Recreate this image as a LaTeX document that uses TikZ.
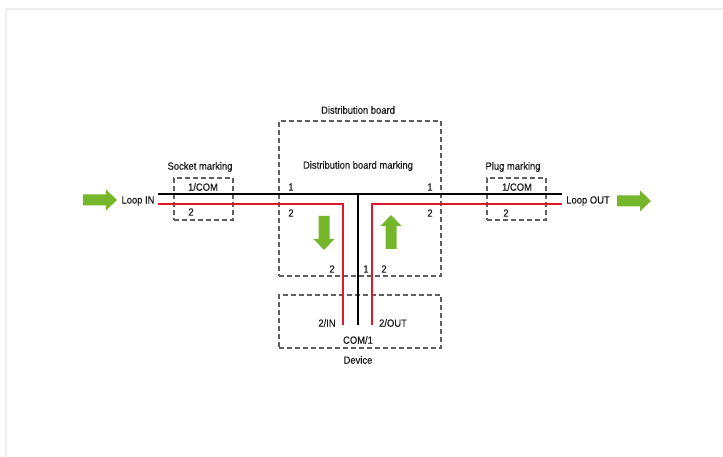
\documentclass[tikz,border=0pt]{standalone}
\usepackage{fontspec}
\setmainfont{Liberation Sans}[FakeStretch=0.9, FakeBold=0.3]
\usetikzlibrary{positioning}
\definecolor{framegray}{RGB}{238,238,238}
\definecolor{dashgray}{RGB}{95,95,95}
\definecolor{wirered}{RGB}{222,25,45}
\definecolor{flowgreen}{RGB}{118,182,42}

\tikzset{
  markbox/.style={draw=dashgray, line width=1.3bp, dash pattern=on 5bp off 3bp, inner sep=0pt},
  lbl/.style={font=\fontsize{10.5}{12}\selectfont, text=black!90, inner sep=1pt},
  wire/.style={line width=1.6bp},
  flowarrow/.pic={\fill[flowgreen] (0,-5.5) -- (23,-5.5) -- (23,-10.5) -- (34,0) -- (23,10.5) -- (23,5.5) -- (0,5.5) -- cycle;}
}

\begin{document}
\begin{tikzpicture}[x=1bp, y=-1bp]
    \useasboundingbox (0,0) rectangle (723,457);

    % Outer frame
    \coordinate (fbl) at (6,457);
    \coordinate (ftl) at (6,9);
    \coordinate (ftr) at (723,9);
    \draw[framegray, line width=2bp] (fbl) -- (ftl) -- (ftr);

    % Boxes
    \node[markbox, minimum width=162bp, minimum height=155bp] (board) at (360,198.5) {};
    \node[markbox, minimum width=59bp, minimum height=42bp] (socket) at (203.5,199) {};
    \node[markbox, minimum width=59bp, minimum height=42bp] (plug) at (516.5,199) {};
    \node[markbox, minimum width=162bp, minimum height=53bp] (device) at (360,321.5) {};

    % Wire ends
    \coordinate (blkL) at (158,194);
    \coordinate (blkR) at (562,194);
    \coordinate (blkT) at (358,194);
    \coordinate (blkB) at (358,325);
    \coordinate (redL) at (158,204);
    \coordinate (redLc) at (343,204);
    \coordinate (redLb) at (343,325);
    \coordinate (redR) at (562,204);
    \coordinate (redRc) at (372,204);
    \coordinate (redRb) at (372,325);

    % Wires
    \draw[wire] (blkL) -- (blkR);
    \draw[wire] (blkT) -- (blkB);
    \draw[wire, wirered, line width=2bp] (redL) -- (redLc) -- (redLb);
    \draw[wire, wirered, line width=2bp] (redR) -- (redRc) -- (redRb);

    % Flow arrows
    \pic (arrin) at (83,200) {flowarrow};
    \pic (arrout) at (617,201) {flowarrow};
    \pic[rotate=-90] (arrdown) at (324,216) {flowarrow};
    \pic[rotate=90] (arrup) at (391,249) {flowarrow};

    % Labels
    \node[lbl] (tboard) at (358,110) {Distribution board};
    \node[lbl] (tbmark) at (358,166) {Distribution board marking};
    \node[lbl] (tsocket) at (200,167) {Socket marking};
    \node[lbl] (tplug) at (513,167) {Plug marking};
    \node[lbl] (tdevice) at (358,360) {Device};
    \node[lbl] (tin) at (138,201) {Loop IN};
    \node[lbl] (tout) at (588,201) {Loop OUT};

    \node[lbl] (scom) at (203,187) {1/COM};
    \node[lbl] (stwo) at (191,212) {2};
    \node[lbl] (pcom) at (517,187) {1/COM};
    \node[lbl] (ptwo) at (506,213) {2};

    \node[lbl] (bone1) at (291,187) {1};
    \node[lbl] (bone2) at (430,187) {1};
    \node[lbl] (btwo1) at (291,213) {2};
    \node[lbl] (btwo2) at (430,213) {2};
    \node[lbl] (btwo3) at (332,269) {2};
    \node[lbl] (bone3) at (366,269) {1};
    \node[lbl] (btwo4) at (384,269) {2};

    \node[lbl] (din) at (327,323) {2/IN};
    \node[lbl] (dout) at (393,323) {2/OUT};
    \node[lbl] (dcom) at (358,340) {COM/1};
\end{tikzpicture}
\end{document}
